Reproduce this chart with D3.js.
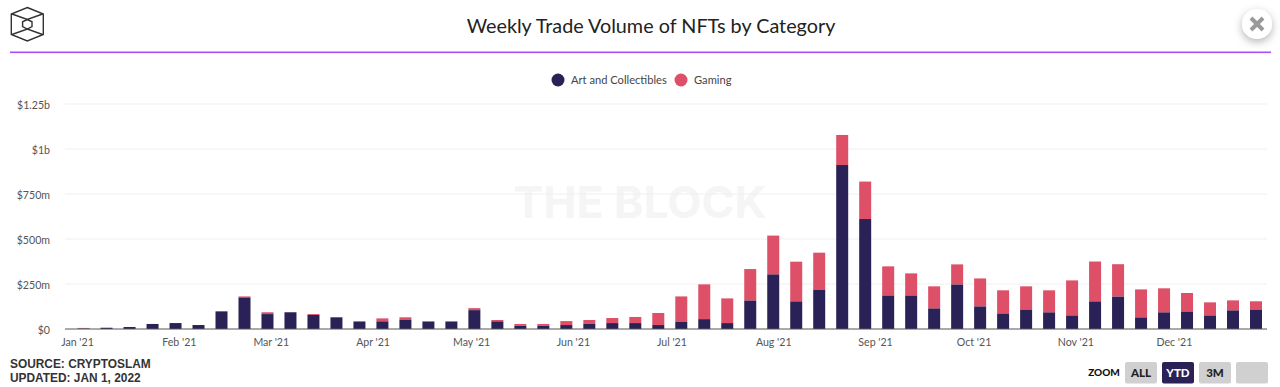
<!DOCTYPE html>
<html>
<head>
<meta charset="utf-8">
<script src="https://cdn.jsdelivr.net/npm/d3@7/dist/d3.min.js"></script>
<style>
html, body { margin: 0; padding: 0; background: #fff; }
text { font-family: "Lato", sans-serif; }
.axis path, .axis line { display: none; }
.axis text { font-size: 10.6px; fill: #555; font-family: "Lato", sans-serif; }
.foot { font-family: "Liberation Sans", sans-serif; font-weight: bold; font-size: 11.9px; fill: #333; }
.btn { font-family: "Lato", sans-serif; font-weight: 900; font-size: 11.5px; text-anchor: middle; }
</style>
</head>
<body>
<div class="container"></div>
<script>
const WIDTH = 1280;
const HEIGHT = 387;

const weeks = [
  "2021-01-03","2021-01-10","2021-01-17","2021-01-24","2021-01-31","2021-02-07","2021-02-14","2021-02-21",
  "2021-02-28","2021-03-07","2021-03-14","2021-03-21","2021-03-28","2021-04-04","2021-04-11","2021-04-18",
  "2021-04-25","2021-05-02","2021-05-09","2021-05-16","2021-05-23","2021-05-30","2021-06-06","2021-06-13",
  "2021-06-20","2021-06-27","2021-07-04","2021-07-11","2021-07-18","2021-07-25","2021-08-01","2021-08-08",
  "2021-08-15","2021-08-22","2021-08-29","2021-09-05","2021-09-12","2021-09-19","2021-09-26","2021-10-03",
  "2021-10-10","2021-10-17","2021-10-24","2021-10-31","2021-11-07","2021-11-14","2021-11-21","2021-11-28",
  "2021-12-05","2021-12-12","2021-12-19","2021-12-26"
];
const artValues = [
  3,7,11,28,33,22,98,176,83,93,78,65,39,43,50,39,
  39,105,43,17,17,22,28,33,33,22,39,55,33,159,304,154,
  220,911,611,187,187,115,248,126,87,109,93,76,154,181,
  65,93,98,76,104,109
];
const gamingValues = [
  3,0,0,0,0,0,0,5,10,0,5,0,5,16,15,5,
  5,11,7,11,11,22,22,28,34,67,142,193,137,174,215,220,
  204,167,208,161,122,122,111,155,128,128,122,194,221,179,
  155,133,102,72,55,45
];
const seriesNames = ["Art and Collectibles", "Gaming"];
const seriesColors = ["#2a2257", "#de5068"];
const yTicks = [0, 250, 500, 750, 1000, 1250];
const yLabels = ["$0", "$250m", "$500m", "$750m", "$1b", "$1.25b"];
const monthTicks = ["2021-01-01","2021-02-01","2021-03-01","2021-04-01","2021-05-01","2021-06-01",
  "2021-07-01","2021-08-01","2021-09-01","2021-10-01","2021-11-01","2021-12-01"];
const zoomLabels = ["ALL", "YTD", "3M", ""];

var translate = function(x, y){
  return "translate("+x+","+y+")";
};

var createChart = function(){
  var svg = d3.select(".container").append("svg")
    .attr("width", WIDTH)
    .attr("height", HEIGHT)
    .style("display", "block");

  var defs = svg.append("defs");
  var shadow = defs.append("filter").attr("id", "shadow")
    .attr("x", "-50%").attr("y", "-50%").attr("width", "200%").attr("height", "200%");
  shadow.append("feDropShadow").attr("dx", 0).attr("dy", 3).attr("stdDeviation", 4)
    .attr("flood-color", "#000").attr("flood-opacity", 0.3);

  var parse = d3.utcParse("%Y-%m-%d");
  var xScale = d3.scaleUtc()
    .domain([parse("2021-01-01"), parse("2021-12-26")])
    .range([77, 1256]);
  var yScale = d3.scaleLinear()
    .domain([0, 1250])
    .range([329, 104]);

  // header
  var logo = svg.append("g")
    .attr("fill", "none").attr("stroke", "#333").attr("stroke-width", 1.4);
  logo.append("path").attr("d", "M27.3,7.5L43.3,14V34.5L27.3,41L11.3,34.5V14Z");
  logo.append("path").attr("d", "M27.3,19.5L32,21.8V26.5L27.3,29L22.6,26.5V21.8Z");
  logo.append("path").attr("d", "M12,14L27.3,19.5L42.6,14M12,34.5L27.3,29L42.6,34.5");

  svg.append("text")
    .attr("x", 651).attr("y", 33)
    .attr("text-anchor", "middle")
    .attr("font-size", 19.8)
    .attr("fill", "#222")
    .text("Weekly Trade Volume of NFTs by Category");

  svg.append("rect")
    .attr("x", 10).attr("y", 51.5).attr("width", 1261).attr("height", 1.6)
    .attr("fill", "#a94ef5");

  svg.append("circle").attr("cx", 1257).attr("cy", 24).attr("r", 15)
    .attr("fill", "#fff").attr("filter", "url(#shadow)");
  svg.append("path")
    .attr("d", "M1251,18L1263,30M1263,18L1251,30")
    .attr("stroke", "#999").attr("stroke-width", 4);

  // legend
  var legendX = [558, 681];
  var legend = svg.selectAll(".legend").data(seriesNames).enter().append("g")
    .attr("class", "legend")
    .attr("transform", function(d, i){ return translate(legendX[i], 80); });
  legend.append("circle").attr("r", 6.5)
    .attr("fill", function(d, i){ return seriesColors[i]; });
  legend.append("text").attr("x", 13).attr("y", 4)
    .attr("font-size", 11.15).attr("fill", "#444")
    .text(function(d){ return d; });

  // watermark
  svg.append("text")
    .attr("x", 640).attr("y", 218)
    .attr("text-anchor", "middle")
    .attr("font-family", "Inter")
    .style("font-family", "Inter")
    .attr("font-size", 44.5).attr("font-weight", 700)
    .attr("fill", "#f5f5f5")
    .text("THE BLOCK");

  // grid
  svg.selectAll(".grid").data(yTicks.slice(1)).enter().append("line")
    .attr("class", "grid")
    .attr("x1", 65).attr("x2", 1267)
    .attr("y1", function(d){ return yScale(d); })
    .attr("y2", function(d){ return yScale(d); })
    .attr("stroke", "#f0f0f0").attr("stroke-width", 1.2);

  // stacks
  var rows = weeks.map(function(w, i){
    return { date: parse(w), art: artValues[i], gaming: gamingValues[i] };
  });
  var stack = d3.stack().keys(["art", "gaming"])(rows);
  var barWidth = 12;
  var layers = svg.selectAll(".layer").data(stack).enter().append("g")
    .attr("class", "layer")
    .attr("fill", function(d, i){ return seriesColors[i]; });
  layers.selectAll("rect").data(function(d){ return d; }).enter().append("rect")
    .attr("x", function(d){ return xScale(d.data.date) - barWidth / 2; })
    .attr("y", function(d){ return yScale(d[1]); })
    .attr("width", barWidth)
    .attr("height", function(d){ return yScale(d[0]) - yScale(d[1]); });

  // axes
  svg.append("line")
    .attr("x1", 65).attr("x2", 1267)
    .attr("y1", yScale(0)).attr("y2", yScale(0))
    .attr("stroke", "#555").attr("stroke-width", 1);

  var xAxis = d3.axisBottom(xScale)
    .tickValues(monthTicks.map(parse))
    .tickFormat(d3.utcFormat("%b '%y"))
    .tickSize(0).tickPadding(0);
  svg.append("g")
    .attr("class", "axis")
    .attr("transform", translate(0, 338))
    .call(xAxis);

  var yAxis = d3.axisLeft(yScale)
    .tickValues(yTicks)
    .tickFormat(function(d, i){ return yLabels[i]; })
    .tickSize(0).tickPadding(15);
  svg.append("g")
    .attr("class", "axis")
    .attr("transform", translate(65, 1))
    .call(yAxis);

  // footer
  svg.append("text").attr("class", "foot").attr("x", 10).attr("y", 368).text("SOURCE: CRYPTOSLAM");
  svg.append("text").attr("class", "foot").attr("x", 10).attr("y", 382).text("UPDATED: JAN 1, 2022");

  // zoom buttons
  svg.append("text").attr("class", "btn").attr("x", 1104).attr("y", 376)
    .style("font-size", "10px").attr("fill", "#111").text("ZOOM");
  var buttonX = [1125, 1162, 1199, 1236];
  var buttons = svg.selectAll(".zoomBtn").data(zoomLabels).enter().append("g")
    .attr("class", "zoomBtn")
    .attr("transform", function(d, i){ return translate(buttonX[i], 362); });
  buttons.append("rect")
    .attr("width", 32).attr("height", 21.5).attr("rx", 2)
    .attr("fill", function(d){ return d === "YTD" ? "#2a2257" : "#d0d0d0"; });
  buttons.append("text").attr("class", "btn")
    .attr("x", 16).attr("y", 15)
    .attr("fill", function(d){ return d === "YTD" ? "#fff" : "#222"; })
    .text(function(d){ return d; });
};

window.onload = createChart;
</script>
</body>
</html>
